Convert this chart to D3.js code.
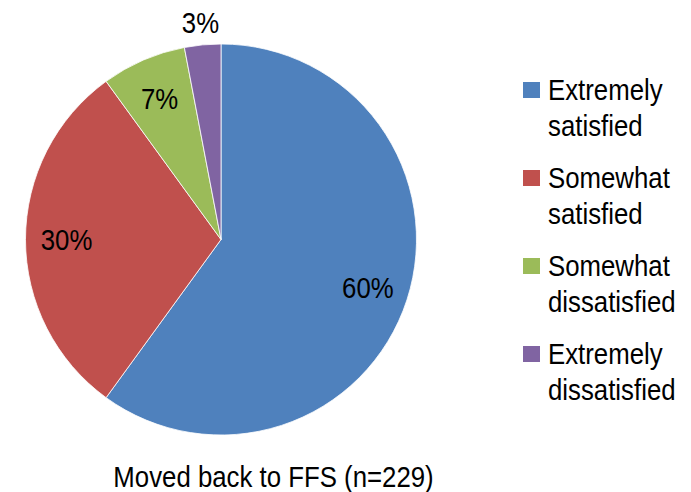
<!DOCTYPE html>
<html><head><meta charset="utf-8">
<script src="https://cdn.jsdelivr.net/npm/d3@7"></script>
<style>
body{margin:0;background:#fff;}
text{font-family:"Liberation Sans",Arial,sans-serif;fill:#000;}
</style></head>
<body><svg id="c" width="691" height="492"></svg>
<script>
const categories = ["Extremely satisfied","Somewhat satisfied","Somewhat dissatisfied","Extremely dissatisfied"];
const legendLines = [["Extremely","satisfied"],["Somewhat","satisfied"],["Somewhat","dissatisfied"],["Extremely","dissatisfied"]];
const values = [60, 30, 7, 3];
const labels = ["60%","30%","7%","3%"];
const colors = ["#4F81BD","#C0504D","#9BBB59","#8064A2"];
const title = "Moved back to FFS (n=229)";

const SX = 0.86; // narrow font emulation
const svg = d3.select("#c");
const cx = 221, cy = 239.5, r = 195.5;
const pie = d3.pie().sort(null).value(d => d)(values);
const arc = d3.arc().innerRadius(0).outerRadius(r);
const g = svg.append("g").attr("transform", `translate(${cx},${cy})`);
g.selectAll("path").data(pie).join("path")
  .attr("d", arc).attr("fill", (d,i) => colors[i])
  .attr("stroke", "#fff").attr("stroke-width", 0.8);

const inArc = d3.arc().innerRadius(r*0.79).outerRadius(r*0.79);
const outArc = d3.arc().innerRadius(r*1.116).outerRadius(r*1.116);
g.selectAll("text.lbl").data(pie).join("text").attr("class","lbl")
  .attr("transform", (d,i) => `translate(${(d.value < 5 ? outArc : inArc).centroid(d)}) scale(${SX},1)`)
  .attr("text-anchor","middle").attr("dy","0.36em")
  .style("font-size","30px").text((d,i) => labels[i]);

const lg = svg.append("g");
legendLines.forEach((lines, i) => {
  const y0 = 82 + i*88;
  lg.append("rect").attr("x",523).attr("y",y0).attr("width",17).attr("height",16).attr("fill",colors[i]);
  lines.forEach((t, j) => {
    lg.append("text").attr("transform", `translate(548,${y0 + 18 + j*36}) scale(${SX},1)`)
      .style("font-size","30px").text(t);
  });
});

svg.append("text").attr("transform", `translate(273.5,487) scale(${SX},1)`).attr("text-anchor","middle")
  .style("font-size","30px").text(title);
</script></body></html>
